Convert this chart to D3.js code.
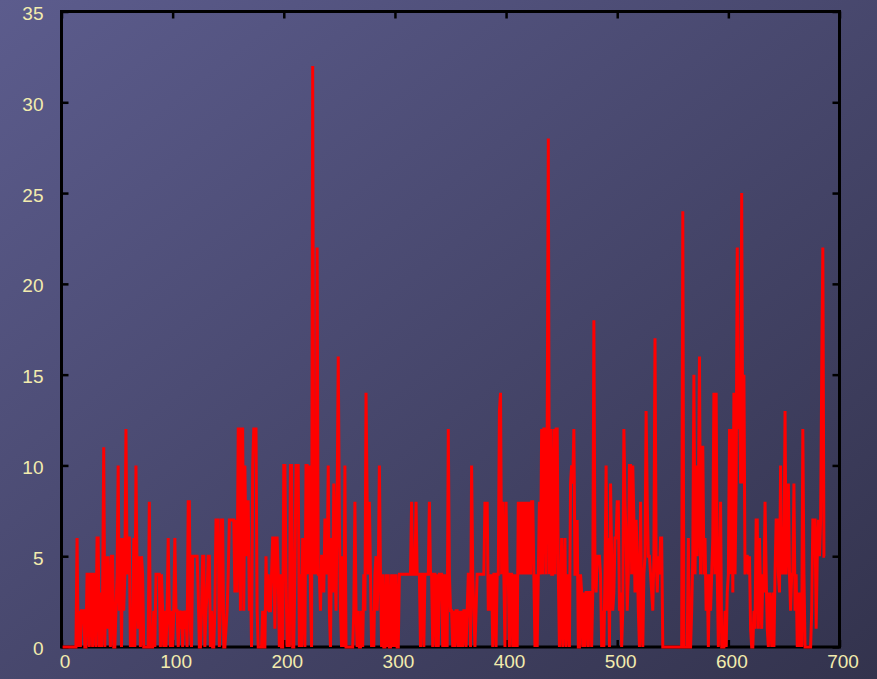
<!DOCTYPE html>
<html>
<head>
<meta charset="utf-8">
<script src="https://cdn.jsdelivr.net/npm/d3@7"></script>
<style>
  html, body { margin: 0; padding: 0; background: #4a4a72; }
  svg { display: block; }
</style>
</head>
<body>
<script>
// ---- data (value per integer x, starting at x = 1) ----
const values = [
  0,0,0,0,0,0,0,0,0,0,0,0,0,6,0,2,0,2,2,2,
  0,0,4,4,0,4,4,0,4,4,0,6,6,0,3,0,3,11,0,5,
  1,5,2,0,5,5,0,0,2,4,10,2,6,0,6,2,4,12,4,6,
  6,0,2,0,6,0,10,4,1,5,0,5,4,0,0,0,0,0,8,0,
  0,0,2,0,4,4,4,4,0,4,2,0,2,0,2,6,2,0,2,0,
  2,6,2,2,0,2,1,2,0,2,1,2,0,8,8,1,0,5,5,5,
  5,5,3,0,0,2,5,5,0,2,3,5,5,0,2,0,0,2,7,7,
  7,0,2,7,7,0,0,1,2,4,7,7,7,7,7,3,7,3,12,12,
  2,12,12,2,10,5,8,8,2,4,0,10,12,12,12,2,0,0,0,0,
  2,0,0,5,2,4,2,2,4,6,6,1,6,6,4,0,4,0,0,10,
  10,4,0,2,0,10,10,0,0,4,10,10,10,0,4,0,6,4,0,10,
  10,4,10,3,0,32,4,10,4,22,4,4,2,5,5,3,7,7,4,10,
  2,0,6,3,9,6,2,8,16,7,2,0,5,0,10,0,0,0,0,0,
  0,0,2,8,2,0,2,0,0,2,0,4,2,14,8,4,8,4,0,2,
  0,4,5,2,4,10,4,0,4,0,0,4,0,4,0,0,4,0,4,0,
  4,0,0,4,4,4,4,4,4,4,4,4,4,4,8,4,4,4,8,4,
  4,4,0,4,4,0,4,4,4,4,8,4,4,0,4,4,0,4,0,4,
  4,4,0,4,0,4,0,12,4,2,2,0,2,0,2,2,0,2,0,2,
  0,2,2,0,2,4,4,0,10,4,2,0,2,4,4,4,4,4,4,4,
  8,6,8,2,4,2,4,0,4,4,0,4,4,13,14,4,8,4,0,8,
  4,4,0,4,4,0,4,0,4,0,8,4,8,4,8,4,8,4,8,4,
  8,4,8,8,4,0,4,0,4,8,4,12,4,12,12,4,12,28,4,12,
  4,4,12,4,12,12,4,0,2,6,0,2,6,0,2,4,0,9,10,9,
  12,4,4,7,0,0,4,3,0,3,0,3,3,0,3,3,0,3,18,4,
  3,5,5,5,4,0,2,0,4,10,2,6,0,9,5,2,3,6,6,8,
  8,2,3,0,2,12,8,6,2,4,10,10,4,10,7,3,7,5,2,0,
  8,2,0,4,5,13,8,5,5,4,3,2,5,17,5,3,5,4,6,6,
  0,0,0,0,0,0,0,0,0,0,0,0,0,0,0,0,0,0,24,0,
  0,0,0,6,0,0,2,5,15,4,10,5,8,16,4,11,11,4,6,2,
  4,0,4,2,4,6,14,4,14,4,0,4,8,0,0,0,2,0,3,4,
  12,4,12,3,14,4,9,22,12,15,9,25,9,15,4,5,5,4,5,1,
  0,0,2,1,7,7,1,6,3,1,4,3,8,4,1,0,3,2,0,3,
  0,4,7,7,4,3,10,4,6,4,13,4,6,9,4,2,4,4,9,2,
  4,0,3,0,3,0,12,4,0,0,0,0,0,0,2,7,7,7,1,5,
  7,5,7,15,22,5,5
];
const xStart = 1;
const xTicks = [0, 100, 200, 300, 400, 500, 600, 700];
const yTicks = [0, 5, 10, 15, 20, 25, 30, 35];
const xDomain = [0, 700];
const yDomain = [0, 35];

// ---- layout ----
const W = 877, H = 679;
const plotLeft = 61.5, plotRight = 839.5, plotTop = 11.5, plotBottom = 647;

const svg = d3.select("body").append("svg")
  .attr("width", W).attr("height", H);

const defs = svg.append("defs");
const grad = defs.append("linearGradient")
  .attr("id", "bg").attr("x1", "0%").attr("y1", "0%").attr("x2", "100%").attr("y2", "100%");
grad.append("stop").attr("offset", "0%").attr("stop-color", "#5c5c8d");
grad.append("stop").attr("offset", "100%").attr("stop-color", "#33334d");

svg.append("rect").attr("width", W).attr("height", H).attr("fill", "url(#bg)");

const x = d3.scaleLinear().domain(xDomain).range([plotLeft, plotRight]);
const y = d3.scaleLinear().domain(yDomain).range([plotBottom, plotTop]);

defs.append("clipPath").attr("id", "clip")
  .append("rect").attr("x", plotLeft).attr("y", plotTop)
  .attr("width", plotRight - plotLeft).attr("height", plotBottom - plotTop + 3);

const labelColor = "#f3ecae";
const fontFamily = "'Liberation Sans', Arial, sans-serif";

// inward ticks on all four sides (no labels), via d3 axes
function tickAxis(axis, tx, ty) {
  const g = svg.append("g").attr("transform", `translate(${tx},${ty})`).call(axis);
  g.select(".domain").remove();
  g.selectAll("text").remove();
  g.selectAll("line").attr("stroke", "#000").attr("stroke-width", 2.5);
  return g;
}
tickAxis(d3.axisBottom(x).tickValues(xTicks).tickSize(-7), 0, plotBottom);
tickAxis(d3.axisTop(x).tickValues(xTicks).tickSize(-7), 0, plotTop);
tickAxis(d3.axisLeft(y).tickValues(yTicks).tickSize(-7), plotLeft, 0);
tickAxis(d3.axisRight(y).tickValues(yTicks).tickSize(-7), plotRight, 0);

// labels
const xl = svg.append("g").attr("transform", `translate(0,${plotBottom})`)
  .call(d3.axisBottom(x).tickValues(xTicks).tickSize(0).tickPadding(8));
xl.select(".domain").remove();
xl.selectAll("text").attr("fill", labelColor).attr("font-size", 19).attr("font-family", fontFamily)
  .attr("dx", 3);

const yl = svg.append("g").attr("transform", `translate(${plotLeft},0)`)
  .call(d3.axisLeft(y).tickValues(yTicks).tickSize(0).tickPadding(18));
yl.select(".domain").remove();
yl.selectAll("text").attr("fill", labelColor).attr("font-size", 19).attr("font-family", fontFamily)
  .attr("dy", "0.42em");

// frame
svg.append("rect")
  .attr("x", plotLeft).attr("y", plotTop)
  .attr("width", plotRight - plotLeft).attr("height", plotBottom - plotTop)
  .attr("fill", "none").attr("stroke", "#000").attr("stroke-width", 3);

// data line (drawn over the frame, like the reference)
const line = d3.line().x((d, i) => x(i + xStart)).y(d => y(d));
svg.append("path")
  .datum(values)
  .attr("clip-path", "url(#clip)")
  .attr("fill", "none")
  .attr("stroke", "#ff0000")
  .attr("stroke-width", 3)
  .attr("stroke-linejoin", "miter")
  .attr("stroke-miterlimit", 2)
  .attr("d", line);
</script>
</body>
</html>
